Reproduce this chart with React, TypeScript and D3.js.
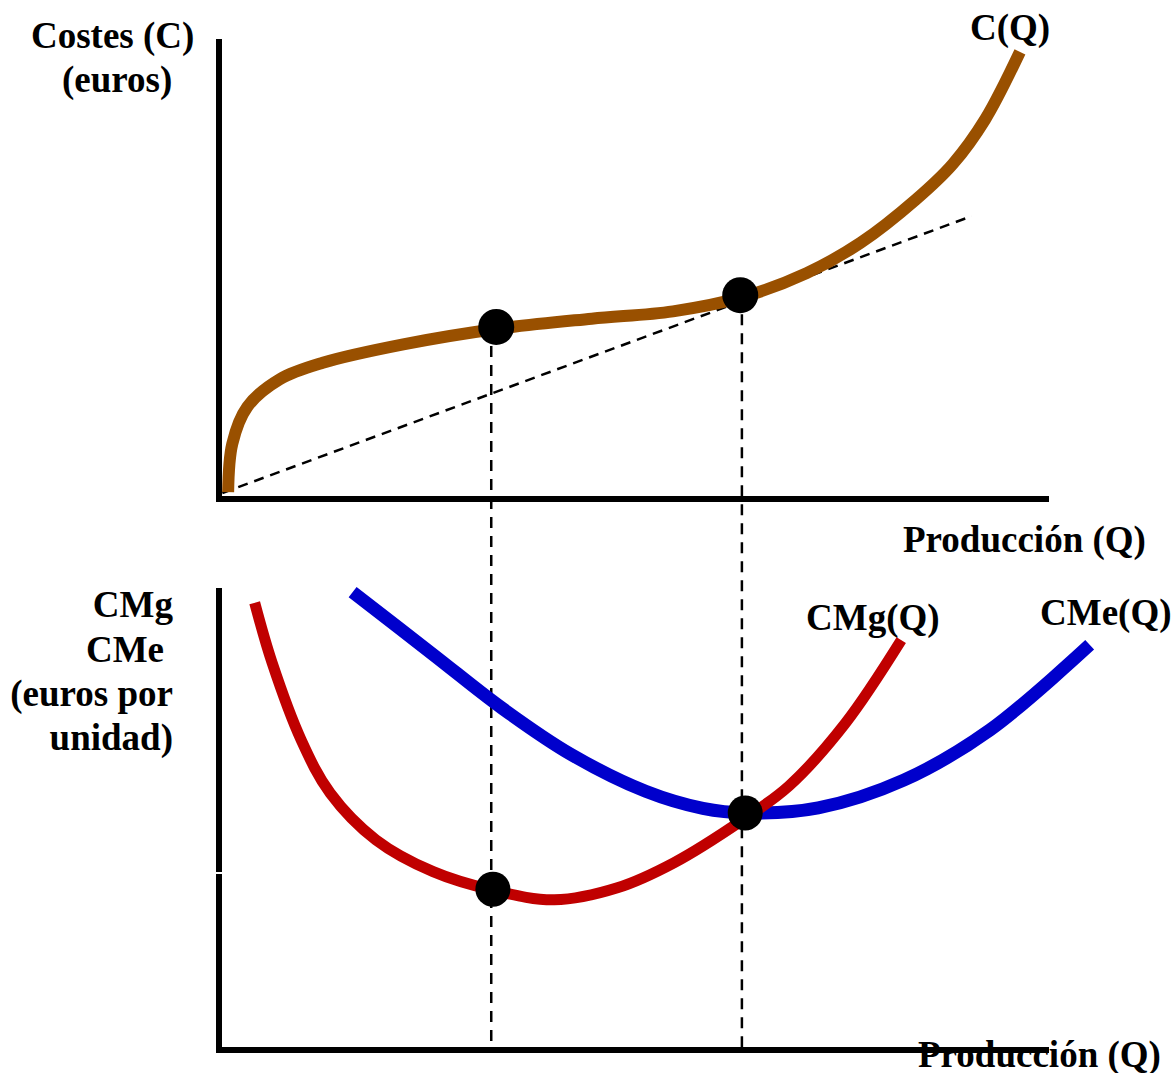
import * as d3 from 'd3'
import { useEffect, useRef } from 'react'

const WIDTH = 1173
const HEIGHT = 1073
const FONT = '"Liberation Serif", "Times New Roman", serif'
const FONT_SIZE = 37

// [Q, C] for the total cost curve (top panel)
const costCurve: [number, number][] = [
  [1.1, 1.5], [1.6, 12.0], [3.4, 20.0], [7.3, 26.0], [12.5, 29.6], [22.2, 33.6],
  [33.6, 37.0], [44.9, 39.2], [54.7, 40.8], [63.1, 43.9], [70.8, 49.1], [77.3, 55.7],
  [83.9, 65.0], [88.4, 72.8], [92.3, 82.5], [96.5, 97.2],
]
// ray from the origin, tangent to C(Q)
const rayLine: [number, number][] = [[0.4, 1.3], [90.7, 61.5]]
const topDots: [number, number][] = [[33.4, 37.4], [62.8, 44.3]]

// [Q, euros per unit] for the bottom panel
const marginalCost: [number, number][] = [
  [4.3, 96.8], [6.4, 83.8], [9.9, 67.1], [13.4, 55.6], [18.9, 45.5], [25.8, 38.6],
  [33.0, 34.6], [40.4, 32.5], [48.0, 35.1], [54.8, 40.5], [63.1, 49.8], [68.7, 57.2],
  [75.5, 70.8], [82.2, 88.7],
]
const averageCost: [number, number][] = [
  [16.1, 99.1], [25.8, 85.6], [34.1, 74.0], [42.4, 64.0], [51.4, 56.0], [58.3, 52.3],
  [63.5, 51.3], [72.2, 52.4], [82.5, 58.4], [92.9, 69.3], [104.9, 87.7],
]
const bottomDots: [number, number][] = [[33.0, 34.8], [63.4, 51.3]]

// vertical guides: Q value, top-panel start value
const guides: [number, number][] = [[32.8, 37.4], [63.0, 44.3]]

export default function App() {
  const svgRef = useRef<SVGSVGElement>(null)

  useEffect(() => {
    if (!svgRef.current) return
    const svg = d3.select(svgRef.current)
    svg.selectAll('*').remove()

    const x = d3.scaleLinear().domain([0, 100]).range([219, 1049])
    const yTop = d3.scaleLinear().domain([0, 100]).range([499, 39])
    const yBot = d3.scaleLinear().domain([0, 100]).range([1050, 588])

    const lineTop = d3.line<[number, number]>()
      .x(d => x(d[0])).y(d => yTop(d[1]))
      .curve(d3.curveCatmullRom.alpha(0.5))
    const lineBot = d3.line<[number, number]>()
      .x(d => x(d[0])).y(d => yBot(d[1]))
      .curve(d3.curveCatmullRom.alpha(0.5))

    const text = (s: string, tx: number, ty: number, anchor = 'start') =>
      svg.append('text')
        .attr('x', tx).attr('y', ty)
        .attr('text-anchor', anchor)
        .attr('font-family', FONT)
        .attr('font-size', FONT_SIZE)
        .attr('font-weight', 'bold')
        .attr('fill', '#000')
        .text(s)

    // Labels
    text('Costes (C)', 31, 48)
    text('(euros)', 62, 92)
    text('C(Q)', 970, 40)
    text('Producción (Q)', 903, 552)
    text('CMg', 173, 617, 'end')
    text('CMe', 164, 662, 'end')
    text('(euros por', 173, 706, 'end')
    text('unidad)', 173, 750, 'end')
    text('CMg(Q)', 806, 630)
    text('CMe(Q)', 1040, 625)
    text('Producción (Q)', 918, 1067)

    // Vertical dashed guides crossing both panels
    svg.selectAll('.guide')
      .data(guides)
      .enter()
      .append('line')
      .attr('x1', d => x(d[0])).attr('x2', d => x(d[0]))
      .attr('y1', d => yTop(d[1])).attr('y2', yBot(0))
      .attr('stroke', '#000')
      .attr('stroke-width', 2.5)
      .attr('stroke-dasharray', '11 8')

    // Ray from origin
    svg.append('path')
      .attr('d', d3.line<[number, number]>().x(d => x(d[0])).y(d => yTop(d[1]))(rayLine))
      .attr('fill', 'none')
      .attr('stroke', '#000')
      .attr('stroke-width', 2.5)
      .attr('stroke-dasharray', '10 7')

    // Curves
    svg.append('path')
      .attr('d', lineTop(costCurve))
      .attr('fill', 'none')
      .attr('stroke', '#995000')
      .attr('stroke-width', 12)

    svg.append('path')
      .attr('d', lineBot(averageCost))
      .attr('fill', 'none')
      .attr('stroke', '#0000cc')
      .attr('stroke-width', 13)

    svg.append('path')
      .attr('d', lineBot(marginalCost))
      .attr('fill', 'none')
      .attr('stroke', '#c00000')
      .attr('stroke-width', 11)

    // Axes
    const axis = (x1: number, y1: number, x2: number, y2: number) =>
      svg.append('line')
        .attr('x1', x1).attr('y1', y1).attr('x2', x2).attr('y2', y2)
        .attr('stroke', '#000')
        .attr('stroke-width', 6)

    axis(x(0), yTop(100), x(0), yTop(0) + 3)
    axis(x(0), yTop(0), x(100), yTop(0))
    axis(x(0), yBot(100), x(0), 872)
    axis(x(0), 874, x(0), yBot(0) + 3)
    axis(x(0), yBot(0), x(100), yBot(0))

    // Dots
    svg.selectAll('.dot-top')
      .data(topDots)
      .enter()
      .append('circle')
      .attr('cx', d => x(d[0])).attr('cy', d => yTop(d[1]))
      .attr('r', 18)
      .attr('fill', '#000')

    svg.selectAll('.dot-bot')
      .data(bottomDots)
      .enter()
      .append('circle')
      .attr('cx', d => x(d[0])).attr('cy', d => yBot(d[1]))
      .attr('r', 17.5)
      .attr('fill', '#000')
  }, [])

  return (
    <svg
      ref={svgRef}
      width={WIDTH}
      height={HEIGHT}
      style={{ position: 'absolute', left: 0, top: 0, background: '#fff' }}
    />
  )
}
